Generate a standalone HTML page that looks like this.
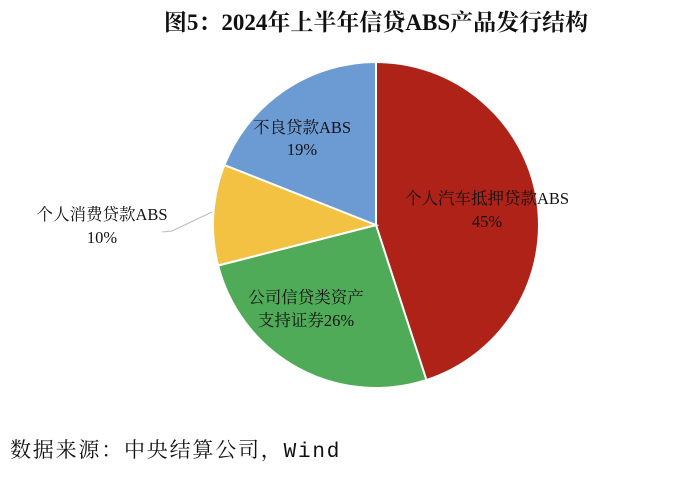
<!DOCTYPE html>
<html><head><meta charset="utf-8"><style>
body{margin:0;background:#fff;width:700px;height:477px;overflow:hidden}
</style></head><body>
<svg width="700" height="477" xmlns="http://www.w3.org/2000/svg" font-family="'Liberation Serif','Noto Serif CJK SC',serif">
<text x="376" y="30" text-anchor="middle" font-size="23" font-weight="bold" fill="#111">图5：2024年上半年信贷ABS产品发行结构</text>
<g stroke="#fff" stroke-width="2">
<path d="M376,225 L376,62 A163,163 0 0 1 426.4,380 Z" fill="#AF2218"/>
<path d="M376,225 L426.4,380 A163,163 0 0 1 218.1,265.5 Z" fill="#4FAB58"/>
<path d="M376,225 L218.1,265.5 A163,163 0 0 1 224.4,165 Z" fill="#F3C242"/>
<path d="M376,225 L224.4,165 A163,163 0 0 1 376,62 Z" fill="#6C9BD3"/>
</g>
<polyline points="162,232 172,231 212,212" fill="none" stroke="#bbb" stroke-width="1"/>
<g font-size="16.5" fill="#111" text-anchor="middle">
<text x="302" y="133">不良贷款ABS</text><text x="302" y="155">19%</text>
<text x="102" y="220">个人消费贷款ABS</text><text x="102" y="243">10%</text>
<text x="487" y="204">个人汽车抵押贷款ABS</text><text x="487" y="227">45%</text>
<text x="306" y="303">公司信贷类资产</text><text x="306" y="326">支持证券26%</text>
</g>
<text x="10" y="457" font-size="21" letter-spacing="1.8" fill="#111" font-family="'Liberation Mono','Noto Serif CJK SC',monospace">数据来源：中央结算公司，Wind</text>
</svg>
</body></html>
